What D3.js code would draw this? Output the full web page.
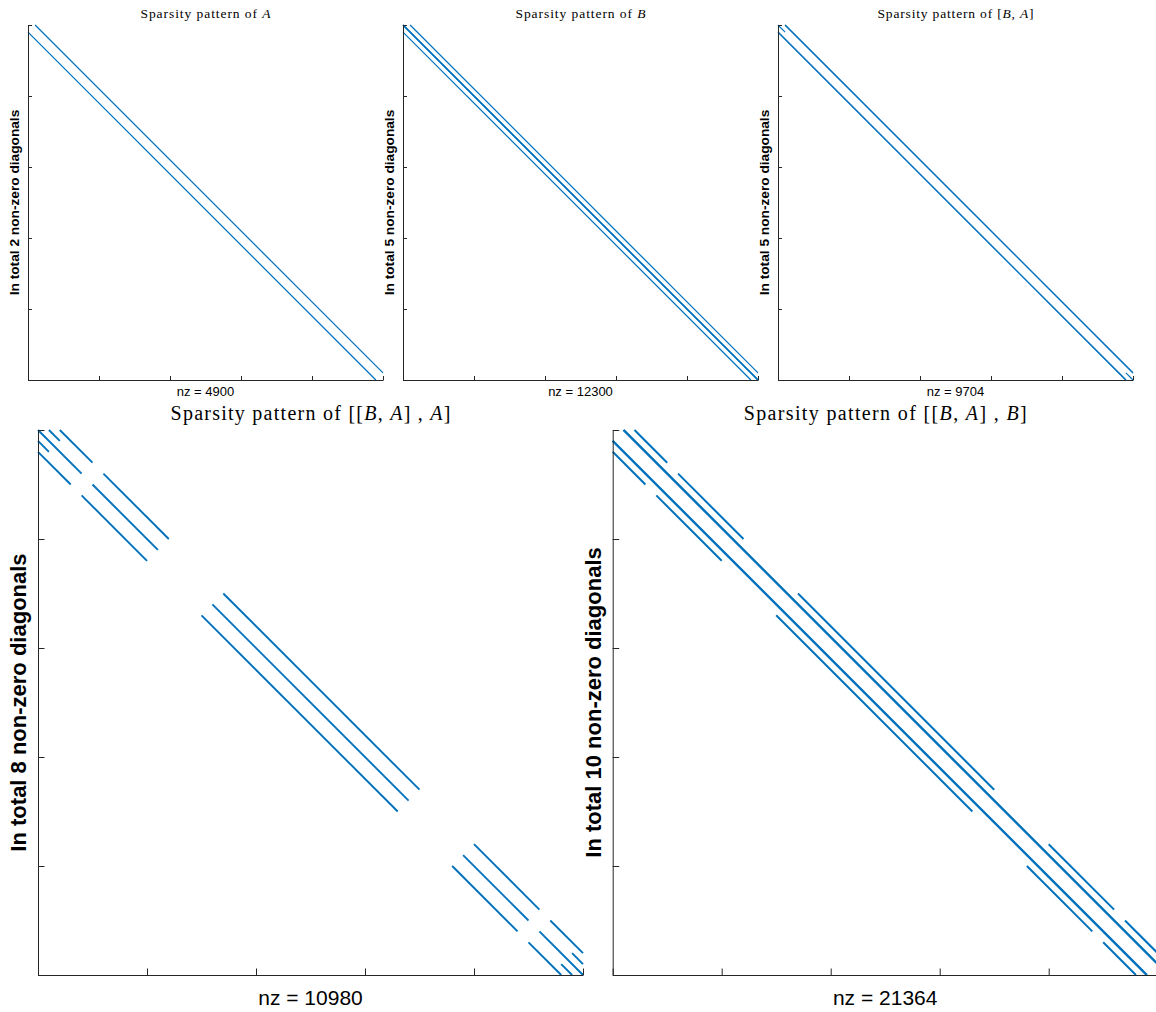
<!DOCTYPE html>
<html><head><meta charset="utf-8">
<script src="https://cdn.jsdelivr.net/npm/d3@7"></script>
<style>body{margin:0;background:#fff;} svg{display:block;}</style>
</head><body>
<svg id="chart" width="1156" height="1012"></svg>
<script>
// ---------------- DATA ----------------
const N = 2500;                                   // matrix dimension
const tickValues = [0, 500, 1000, 1500, 2000, 2500];

// each diagonal segment: k = column offset (col - row), rows from..to
const diagA = [
  {k: 50, from: 0, to: 2450},
  {k: -50, from: 50, to: 2500}
];
const diagB = [
  {k: 0, from: 0, to: 2500},
  {k: 1, from: 0, to: 2499},
  {k: -1, from: 1, to: 2500},
  {k: 50, from: 0, to: 2450},
  {k: -50, from: 50, to: 2500}
];
const diagBA = [
  {k: 49, from: 0, to: 2451},
  {k: 51, from: 0, to: 2449},
  {k: -49, from: 49, to: 2500},
  {k: -51, from: 51, to: 2500},
  {k: 0, from: 0, to: 50},
  {k: 0, from: 2450, to: 2500}
];
const diagBAA = [
  {k: 100, from: 0, to: 150}, {k: 100, from: 200, to: 500}, {k: 100, from: 750, to: 1650},
  {k: 100, from: 1900, to: 2200}, {k: 100, from: 2250, to: 2400},
  {k: 0, from: 0, to: 200}, {k: 0, from: 250, to: 550}, {k: 0, from: 800, to: 1700},
  {k: 0, from: 1950, to: 2250}, {k: 0, from: 2300, to: 2500},
  {k: -100, from: 100, to: 250}, {k: -100, from: 300, to: 600}, {k: -100, from: 850, to: 1750},
  {k: -100, from: 2000, to: 2300}, {k: -100, from: 2350, to: 2500},
  {k: 50, from: 0, to: 50}, {k: 50, from: 2400, to: 2450},
  {k: -50, from: 50, to: 100}, {k: -50, from: 2450, to: 2500}
];
const diagBAB = [
  {k: 100, from: 0, to: 150}, {k: 100, from: 200, to: 500}, {k: 100, from: 750, to: 1650},
  {k: 100, from: 1900, to: 2200}, {k: 100, from: 2250, to: 2400},
  {k: -100, from: 100, to: 250}, {k: -100, from: 300, to: 600}, {k: -100, from: 850, to: 1750},
  {k: -100, from: 2000, to: 2300}, {k: -100, from: 2350, to: 2500},
  {k: 49, from: 0, to: 2451}, {k: 51, from: 0, to: 2449},
  {k: -49, from: 49, to: 2500}, {k: -51, from: 51, to: 2500}
];

const titleParts = [
  [["Sparsity pattern of ", false], ["A", true]],
  [["Sparsity pattern of ", false], ["B", true]],
  [["Sparsity pattern of [", false], ["B", true], [", ", false], ["A", true], ["]", false]],
  [["Sparsity pattern of [[", false], ["B", true], [", ", false], ["A", true], ["] , ", false], ["A", true], ["]", false]],
  [["Sparsity pattern of [[", false], ["B", true], [", ", false], ["A", true], ["] , ", false], ["B", true], ["]", false]]
];
const yLabels = [
  "In total 2 non-zero diagonals",
  "In total 5 non-zero diagonals",
  "In total 5 non-zero diagonals",
  "In total 8 non-zero diagonals",
  "In total 10 non-zero diagonals"
];
const nzCounts = [4900, 12300, 9704, 10980, 21364];
const panelData = [diagA, diagB, diagBA, diagBAA, diagBAB];

// ---------------- LAYOUT / STYLE ----------------
const small = {size: 355, y0: 25, tick: 4, lw: 1.25, titleSize: 13.5, titleY: 18,
  labSize: 13.7, labDx: 13.5, xlabSize: 13, xlabY: 396};
const big = {size: 545, y0: 430, tick: 6.5, lw: 1.9, titleSize: 20, titleY: 420,
  labSize: 22, labDx: 20, xlabSize: 21, xlabY: 1005};
const layout = [
  Object.assign({}, small, {x0: 28, titleLen: 130}),
  Object.assign({}, small, {x0: 403, titleLen: 130}),
  Object.assign({}, small, {x0: 778, titleLen: 156, lw: 1.1}),
  Object.assign({}, big, {x0: 38, titleLen: 280}),
  Object.assign({}, big, {x0: 612.7, titleLen: 283, lw: 2.0})
];
const COLOR = "#0072BD";
const AXIS = "#262626";

const svg = d3.select("#chart");

layout.forEach((L, i) => {
  const g = svg.append("g");
  const x = d3.scaleLinear().domain([0, N]).range([L.x0, L.x0 + L.size]);
  const y = d3.scaleLinear().domain([0, N]).range([L.y0, L.y0 + L.size]);

  // diagonals
  g.append("g").selectAll("line").data(panelData[i]).join("line")
    .attr("x1", d => x(d.from + d.k)).attr("y1", d => y(d.from))
    .attr("x2", d => x(d.to + d.k)).attr("y2", d => y(d.to))
    .attr("stroke", COLOR).attr("stroke-width", L.lw);

  // axes
  const xa = g.append("g").attr("transform", `translate(0,${L.y0 + L.size})`)
    .call(d3.axisBottom(x).tickValues(tickValues).tickSize(-L.tick).tickSizeOuter(0).tickFormat(""));
  const ya = g.append("g").attr("transform", `translate(${L.x0},0)`)
    .call(d3.axisLeft(y).tickValues(tickValues).tickSize(-L.tick).tickSizeOuter(0).tickFormat(""));
  [xa, ya].forEach(a => {
    a.selectAll("path.domain").attr("stroke", AXIS).attr("stroke-width", 1);
    a.selectAll(".tick line").attr("stroke", AXIS).attr("stroke-width", 1);
  });

  const cx = L.x0 + L.size / 2;
  // title
  const t = g.append("text")
    .attr("x", cx).attr("y", L.titleY)
    .attr("text-anchor", "middle")
    .attr("font-family", "'Liberation Serif', 'Times New Roman', serif")
    .attr("font-size", L.titleSize)
    .attr("fill", "#000")
    .attr("textLength", L.titleLen).attr("lengthAdjust", "spacing");
  titleParts[i].forEach(([s, it]) => {
    t.append("tspan").text(s).attr("font-style", it ? "italic" : "normal");
  });

  // y label
  const cy = L.y0 + L.size / 2;
  const bx = L.x0 - L.labDx + L.labSize * 0.36;
  g.append("text")
    .attr("transform", `translate(${bx},${cy}) rotate(-90)`)
    .attr("text-anchor", "middle")
    .attr("font-family", "'Liberation Sans', Arial, sans-serif")
    .attr("font-weight", "bold")
    .attr("font-size", L.labSize)
    .attr("fill", "#000")
    .text(yLabels[i]);

  // x label
  g.append("text")
    .attr("x", cx).attr("y", L.xlabY)
    .attr("text-anchor", "middle")
    .attr("font-family", "'Liberation Sans', Arial, sans-serif")
    .attr("font-size", L.xlabSize)
    .attr("fill", "#000")
    .text("nz = " + nzCounts[i]);
});
</script>
</body></html>
